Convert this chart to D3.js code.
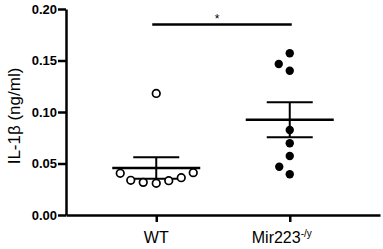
<!DOCTYPE html>
<html>
<head>
<meta charset="utf-8">
<script src="https://cdn.jsdelivr.net/npm/d3@7"></script>
<style>
  body { margin: 0; background: #fff; }
  svg { display: block; font-family: 'Liberation Sans', Arial, sans-serif; }
</style>
</head>
<body>
<div id="chart"></div>
<script>
// IL-1b values (ng/ml)
const groups = ['WT', 'Mir223'];
const wtValues = [0.0411, 0.0362, 0.0333, 0.0308, 0.0317, 0.0337, 0.0405, 0.118];
const mirValues = [0.157, 0.1466, 0.1401, 0.0825, 0.0696, 0.0573, 0.0469, 0.0395];
const yTicks = [0, 0.05, 0.1, 0.15, 0.2];
const sigLevel = 0.185;

const width = 383,
  height = 249;

const svg = d3
  .select('#chart')
  .append('svg')
  .attr('width', width)
  .attr('height', height);

const x = d3.scalePoint().domain(groups).range([66, 380]).padding(0.676);
const y = d3.scaleLinear().domain([0, 0.2]).range([215, 9]);

// y axis
const yAxis = svg
  .append('g')
  .attr('transform', 'translate(66,0)')
  .call(
    d3
      .axisLeft(y)
      .tickValues(yTicks)
      .tickFormat(d3.format('.2f'))
      .tickSize(8)
      .tickSizeOuter(0)
      .tickPadding(1)
  );
yAxis.select('.domain').attr('stroke-width', 2.5);
yAxis.selectAll('.tick line').attr('stroke-width', 2.5);
yAxis
  .selectAll('.tick text')
  .attr('fill', '#000')
  .style('font-size', '13px')
  .style('font-weight', 'bold');

// x axis
const xAxis = svg
  .append('g')
  .attr('transform', 'translate(0,215)')
  .call(d3.axisBottom(x).tickSize(7).tickSizeOuter(0).tickFormat(''));
xAxis.select('.domain').attr('stroke-width', 2.5);
xAxis.selectAll('.tick line').attr('stroke-width', 2.5);

svg
  .append('text')
  .attr('x', x('WT'))
  .attr('y', 243)
  .attr('text-anchor', 'middle')
  .style('font-size', '16px')
  .text('WT');

const mirLabel = svg
  .append('text')
  .attr('x', x('Mir223') - 38)
  .attr('y', 243)
  .style('font-size', '16px');
mirLabel.append('tspan').text('Mir223');
mirLabel
  .append('tspan')
  .attr('dy', -6)
  .style('font-size', '10px')
  .text('-/y');

// y title
svg
  .append('text')
  .attr('transform', 'translate(20,116) rotate(-90)')
  .attr('text-anchor', 'middle')
  .style('font-size', '17px')
  .text('IL-1β (ng/ml)');

// simple beeswarm: lowest values first, step out from the centre until free
function swarm(values, minDist) {
  const placed = [];
  const order = values
    .map((v, i) => ({ v, i }))
    .sort((a, b) => a.v - b.v);
  order.forEach((p) => {
    const py = y(p.v);
    for (let k = 0; k < 200; k++) {
      const off = (k % 2 === 0 ? 1 : -1) * Math.ceil(k / 2) * 0.5;
      const ok = placed.every(
        (q) => Math.hypot(q.off - off, q.py - py) >= minDist
      );
      if (ok) {
        placed.push({ v: p.v, off, py });
        break;
      }
    }
  });
  return placed;
}

function drawGroup(name, values, filled) {
  const cx = x(name);
  const m = d3.mean(values);
  const sem = d3.deviation(values) / Math.sqrt(values.length);
  const g = svg.append('g');

  // sem bar
  g.append('line')
    .attr('x1', cx)
    .attr('x2', cx)
    .attr('y1', y(m + sem))
    .attr('y2', y(m - sem))
    .attr('stroke', '#000')
    .attr('stroke-width', 2);
  [m + sem, m - sem].forEach((v) => {
    g.append('line')
      .attr('x1', cx - 23)
      .attr('x2', cx + 23)
      .attr('y1', y(v))
      .attr('y2', y(v))
      .attr('stroke', '#000')
      .attr('stroke-width', 2);
  });
  // mean
  g.append('line')
    .attr('x1', cx - 44)
    .attr('x2', cx + 44)
    .attr('y1', y(m))
    .attr('y2', y(m))
    .attr('stroke', '#000')
    .attr('stroke-width', 2.5);

  g.selectAll('circle')
    .data(swarm(values, 12.6))
    .join('circle')
    .attr('cx', (d) => cx + d.off)
    .attr('cy', (d) => d.py)
    .attr('r', filled ? 4.2 : 3.8)
    .attr('fill', filled ? '#000' : '#fff')
    .attr('stroke', '#000')
    .attr('stroke-width', filled ? 0 : 1.7);
}

drawGroup('WT', wtValues, false);
drawGroup('Mir223', mirValues, true);

// significance bar
svg
  .append('line')
  .attr('x1', x('WT') - 4)
  .attr('x2', x('Mir223') + 2)
  .attr('y1', y(sigLevel))
  .attr('y2', y(sigLevel))
  .attr('stroke', '#000')
  .attr('stroke-width', 2.5);
svg
  .append('text')
  .attr('x', (x('WT') + x('Mir223')) / 2 - 6)
  .attr('y', y(sigLevel) - 1)
  .attr('text-anchor', 'middle')
  .style('font-size', '12px')
  .text('*');
</script>
</body>
</html>
